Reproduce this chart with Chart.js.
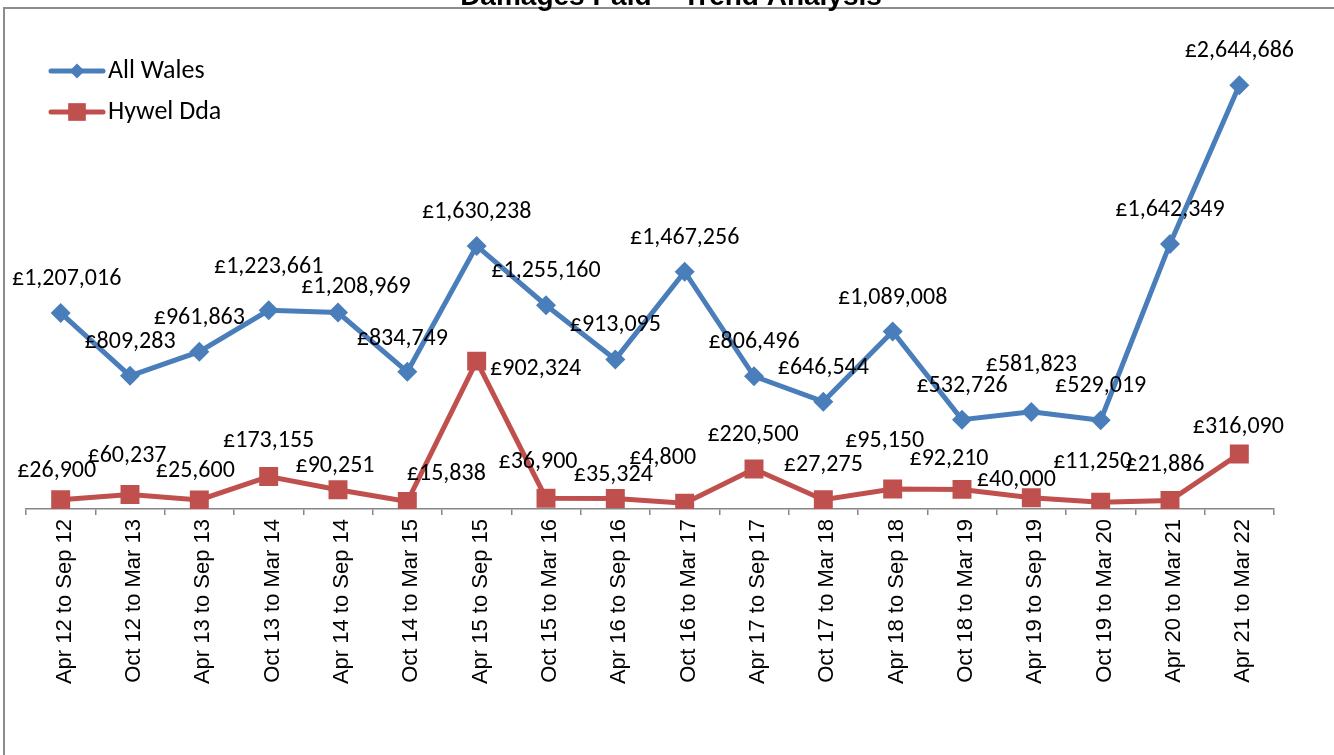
<!DOCTYPE html>
<html>
<head>
<meta charset="utf-8">
<title>Damages Paid – Trend Analysis</title>
<script src="https://cdn.jsdelivr.net/npm/chart.js@4"></script>
<style>
  html, body { margin: 0; padding: 0; background: #fff; overflow: hidden; }
  #wrap { position: relative; width: 1334px; height: 755px; }
</style>
</head>
<body>
<div id="wrap"><canvas id="chart" width="1334" height="755"></canvas></div>
<script>
const chartTitle = 'Damages Paid – Trend Analysis';

const periods = [
  'Apr 12 to Sep 12', 'Oct 12 to Mar 13', 'Apr 13 to Sep 13', 'Oct 13 to Mar 14',
  'Apr 14 to Sep 14', 'Oct 14 to Mar 15', 'Apr 15 to Sep 15', 'Oct 15 to Mar 16',
  'Apr 16 to Sep 16', 'Oct 16 to Mar 17', 'Apr 17 to Sep 17', 'Oct 17 to Mar 18',
  'Apr 18 to Sep 18', 'Oct 18 to Mar 19', 'Apr 19 to Sep 19', 'Oct 19 to Mar 20',
  'Apr 20 to Mar 21', 'Apr 21 to Mar 22'
];

const allWales = [1207016, 809283, 961863, 1223661, 1208969, 834749, 1630238, 1255160, 913095,
  1467256, 806496, 646544, 1089008, 532726, 581823, 529019, 1642349, 2644686];

const hywelDda = [26900, 60237, 25600, 173155, 90251, 15838, 902324, 36900, 35324,
  4800, 220500, 27275, 95150, 92210, 40000, 11250, 21886, 316090];

// where each data label sits relative to its point (dx, dy), like the hand-moved Excel labels
const walesLabelPos = [[6,-34],[0,-34],[0,-34],[0,-43],[18,-26],[-5,-33],[0,-34],[0,-34],[0,-34],
  [0,-34],[0,-34],[0,-34],[0,-34],[0,-34],[0,-47],[0,-34],[0,-34],[0,-34]];
const hywelLabelPos = [[-4,-29],[-3,-38],[-4,-29],[0,-36],[-3,-24],[39,-27],[59,8],[-8,-36],[-2,-23],
  [-22,-45],[-1,-34],[0,-35],[-8,-48],[-13,-30],[-15,-18],[-8,-40],[-5,-36],[-1,-27]];

const blue = '#4A7EBB';
const red = '#C0504D';
const labelFont = '24px Carlito, Lato, sans-serif';

function money(v) {
  return '£' + v.toLocaleString('en-GB');
}

const frame = {
  id: 'frame',
  beforeDraw(chart) {
    const ctx = chart.ctx;
    ctx.save();
    ctx.fillStyle = '#fff';
    ctx.fillRect(0, 0, chart.width, chart.height);
    ctx.strokeStyle = '#8c8c8c';
    ctx.lineWidth = 2;
    ctx.beginPath();
    ctx.moveTo(4, chart.height);
    ctx.lineTo(4, 8);
    ctx.lineTo(chart.width, 8);
    ctx.stroke();
    ctx.fillStyle = '#000';
    ctx.font = 'bold 28px "Liberation Sans", Arial, sans-serif';
    ctx.textAlign = 'center';
    ctx.textBaseline = 'alphabetic';
    ctx.fillText(chartTitle, 671, 5);
    ctx.restore();
  }
};

const valueLabels = {
  id: 'valueLabels',
  afterDatasetsDraw(chart) {
    const ctx = chart.ctx;
    const offsets = [walesLabelPos, hywelLabelPos];
    ctx.save();
    ctx.font = labelFont;
    ctx.fillStyle = '#000';
    ctx.textAlign = 'center';
    ctx.textBaseline = 'middle';
    chart.data.datasets.forEach(function(ds, i) {
      chart.getDatasetMeta(i).data.forEach(function(pt, j) {
        const o = offsets[i][j];
        ctx.fillText(money(ds.data[j]), pt.x + o[0], pt.y + o[1]);
      });
    });
    ctx.restore();
  }
};

const sideLegend = {
  id: 'sideLegend',
  afterDraw(chart) {
    const ctx = chart.ctx;
    const items = [
      { text: 'All Wales', color: blue, style: 'rectRot', r: 7.5, y: 71 },
      { text: 'Hywel Dda', color: red, style: 'rect', r: 12.5, y: 112 }
    ];
    ctx.save();
    items.forEach(function(it) {
      ctx.strokeStyle = it.color;
      ctx.lineWidth = 5;
      ctx.lineCap = 'round';
      ctx.beginPath();
      ctx.moveTo(51, it.y);
      ctx.lineTo(103, it.y);
      ctx.stroke();
      ctx.fillStyle = it.color;
      Chart.helpers.drawPoint(ctx, { pointStyle: it.style, radius: it.r, borderWidth: 0 }, 77, it.y);
      ctx.fillStyle = '#000';
      ctx.font = '26px Carlito, Lato, sans-serif';
      ctx.textAlign = 'left';
      ctx.textBaseline = 'middle';
      ctx.fillText(it.text, 108, it.y);
    });
    ctx.restore();
  }
};

new Chart(document.getElementById('chart').getContext('2d'), {
  type: 'line',
  data: {
    labels: periods,
    datasets: [{
      label: 'All Wales',
      data: allWales,
      borderColor: blue,
      backgroundColor: blue,
      borderWidth: 5,
      pointStyle: 'rectRot',
      pointRadius: 10,
      pointBorderWidth: 0,
      tension: 0
    }, {
      label: 'Hywel Dda',
      data: hywelDda,
      borderColor: red,
      backgroundColor: red,
      borderWidth: 5,
      pointStyle: 'rect',
      pointRadius: 13.4,
      pointBorderWidth: 0,
      tension: 0
    }]
  },
  options: {
    responsive: false,
    animation: false,
    events: [],
    layout: { padding: { left: 26, right: 60, top: 29, bottom: 0 } },
    plugins: {
      legend: { display: false },
      tooltip: { enabled: false }
    },
    scales: {
      x: {
        offset: true,
        grid: { offset: true, drawOnChartArea: false, color: '#868686', tickLength: 6, lineWidth: 1.5 },
        border: { color: '#868686', width: 1.5 },
        ticks: {
          color: '#000',
          font: { family: '"Liberation Sans", Arial, sans-serif', size: 22 },
          minRotation: 90,
          maxRotation: 90,
          autoSkip: false,
          padding: 4,
          labelOffset: 4
        },
        afterFit(scale) { scale.height = 246; }
      },
      y: {
        display: false,
        min: -31600,
        max: 3000000
      }
    }
  },
  plugins: [frame, valueLabels, sideLegend]
});
</script>
</body>
</html>
